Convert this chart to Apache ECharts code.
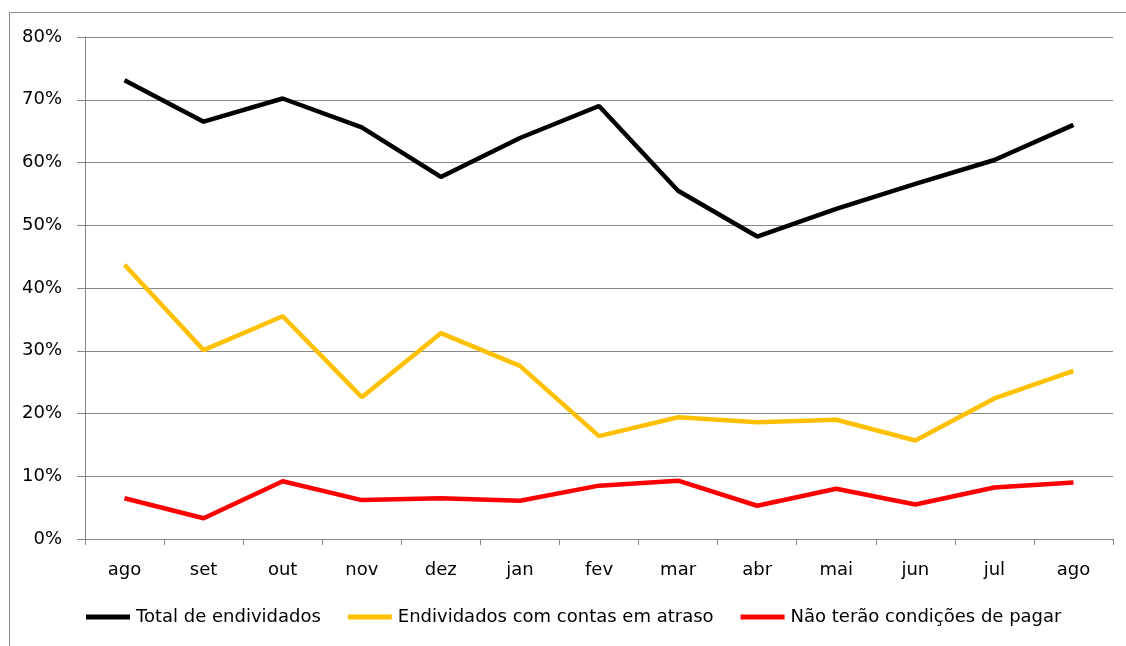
<!DOCTYPE html>
<html>
<head>
<meta charset="utf-8">
<script src="https://cdn.jsdelivr.net/npm/echarts@6/dist/echarts.min.js"></script>
<style>html,body{margin:0;padding:0;background:#fff}#c{width:1126px;height:646px}</style>
</head>
<body>
<div id="c"></div>
<script>
var categories = ['ago','set','out','nov','dez','jan','fev','mar','abr','mai','jun','jul','ago'];
var totalEndividados = [73.1, 66.5, 70.2, 65.6, 57.7, 63.9, 69.0, 55.5, 48.2, 52.6, 56.6, 60.4, 66.0];
var contasAtraso = [43.7, 30.1, 35.5, 22.6, 32.8, 27.6, 16.4, 19.4, 18.6, 19.0, 15.7, 22.4, 26.8];
var naoPagar = [6.5, 3.3, 9.2, 6.2, 6.5, 6.1, 8.5, 9.3, 5.3, 8.0, 5.5, 8.2, 9.0];
var seriesNames = ['Total de endividados','Endividados com contas em atraso','Não terão condições de pagar'];
var font = 'DejaVu Sans';
var chart = echarts.init(document.getElementById('c'));
function line(name, data, color){
  return {name:name,type:'line',data:data,symbol:'none',lineStyle:{color:color,width:4.5},itemStyle:{color:color},animation:false};
}
chart.setOption({
  animation:false,
  graphic:[{type:'rect',shape:{x:9.5,y:12.5,width:1300,height:800},style:{fill:'none',stroke:'#8a8a8a',lineWidth:1},silent:true}],
  grid:{left:85,right:13,top:37,bottom:107,containLabel:false},
  legend:{left:81,top:603,itemWidth:44,itemHeight:5,itemGap:27,icon:'rect',
    textStyle:{fontFamily:font,fontSize:18,color:'#000',padding:[0,0,0,1]},
    data:seriesNames},
  xAxis:{type:'category',data:categories,boundaryGap:true,
    axisLine:{lineStyle:{color:'#868686',width:1}},
    axisTick:{show:true,length:6,lineStyle:{color:'#868686'}},
    axisLabel:{fontFamily:font,fontSize:18,color:'#000',margin:22}},
  yAxis:{type:'value',min:0,max:80,interval:10,
    axisLine:{show:true,lineStyle:{color:'#868686',width:1}},
    axisTick:{show:true,length:8,lineStyle:{color:'#868686'}},
    splitLine:{lineStyle:{color:'#868686',width:1}},
    axisLabel:{fontFamily:font,fontSize:18,color:'#000',margin:23,formatter:'{value}%'}},
  series:[line(seriesNames[0], totalEndividados,'#000000'),
          line(seriesNames[1], contasAtraso,'#FFC000'),
          line(seriesNames[2], naoPagar,'#FF0000')]
});
</script>
</body>
</html>
